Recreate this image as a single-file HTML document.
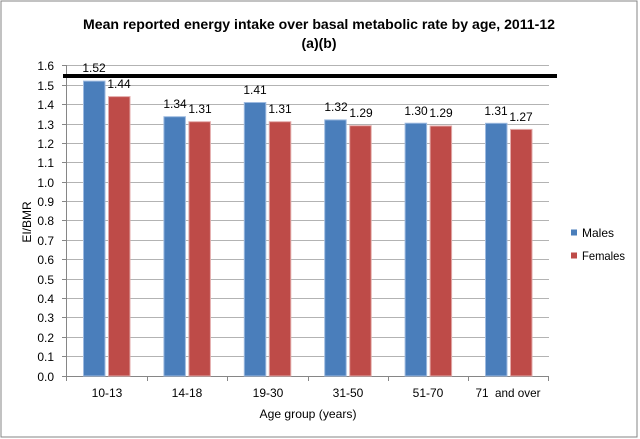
<!DOCTYPE html>
<html><head><meta charset="utf-8">
<style>
html,body{margin:0;padding:0;background:#fff;}
svg{display:block;}
text{font-family:"Liberation Sans",sans-serif;fill:#000;}
</style></head>
<body>
<svg width="640" height="439" viewBox="0 0 640 439" xmlns="http://www.w3.org/2000/svg">
<rect x="0" y="0" width="640" height="439" fill="#fff"/>
<rect x="1" y="1" width="636" height="436" fill="#fff" stroke="#868686" stroke-width="1"/>
<text x="319" y="29" font-size="14" font-weight="bold" text-anchor="middle" textLength="472" lengthAdjust="spacingAndGlyphs">Mean reported energy intake over basal metabolic rate by age, 2011-12</text>
<text x="319" y="48" font-size="14" font-weight="bold" text-anchor="middle" textLength="35" lengthAdjust="spacingAndGlyphs">(a)(b)</text>
<g stroke="#b3b3b3" stroke-width="1">
<line x1="66" y1="65.5" x2="549" y2="65.5"/><line x1="66" y1="85.5" x2="549" y2="85.5"/><line x1="66" y1="104.5" x2="549" y2="104.5"/><line x1="66" y1="124.5" x2="549" y2="124.5"/><line x1="66" y1="143.5" x2="549" y2="143.5"/><line x1="66" y1="162.5" x2="549" y2="162.5"/><line x1="66" y1="182.5" x2="549" y2="182.5"/><line x1="66" y1="201.5" x2="549" y2="201.5"/><line x1="66" y1="220.5" x2="549" y2="220.5"/><line x1="66" y1="240.5" x2="549" y2="240.5"/><line x1="66" y1="259.5" x2="549" y2="259.5"/><line x1="66" y1="279.5" x2="549" y2="279.5"/><line x1="66" y1="298.5" x2="549" y2="298.5"/><line x1="66" y1="317.5" x2="549" y2="317.5"/><line x1="66" y1="337.5" x2="549" y2="337.5"/><line x1="66" y1="356.5" x2="549" y2="356.5"/>
</g>
<g stroke="#868686" stroke-width="1">
<line x1="66.5" y1="65" x2="66.5" y2="376"/>
<line x1="62" y1="376.5" x2="549" y2="376.5"/>
<line x1="62" y1="65.5" x2="66" y2="65.5"/><line x1="62" y1="85.5" x2="66" y2="85.5"/><line x1="62" y1="104.5" x2="66" y2="104.5"/><line x1="62" y1="124.5" x2="66" y2="124.5"/><line x1="62" y1="143.5" x2="66" y2="143.5"/><line x1="62" y1="162.5" x2="66" y2="162.5"/><line x1="62" y1="182.5" x2="66" y2="182.5"/><line x1="62" y1="201.5" x2="66" y2="201.5"/><line x1="62" y1="220.5" x2="66" y2="220.5"/><line x1="62" y1="240.5" x2="66" y2="240.5"/><line x1="62" y1="259.5" x2="66" y2="259.5"/><line x1="62" y1="279.5" x2="66" y2="279.5"/><line x1="62" y1="298.5" x2="66" y2="298.5"/><line x1="62" y1="317.5" x2="66" y2="317.5"/><line x1="62" y1="337.5" x2="66" y2="337.5"/><line x1="62" y1="356.5" x2="66" y2="356.5"/>
<line x1="66.5" y1="376" x2="66.5" y2="381"/><line x1="147.5" y1="376" x2="147.5" y2="381"/><line x1="227.5" y1="376" x2="227.5" y2="381"/><line x1="308.5" y1="376" x2="308.5" y2="381"/><line x1="388.5" y1="376" x2="388.5" y2="381"/><line x1="468.5" y1="376" x2="468.5" y2="381"/><line x1="548.5" y1="376" x2="548.5" y2="381"/>
</g>
<g font-size="12" text-anchor="end">
<text x="54" y="70">1.6</text><text x="54" y="90">1.5</text><text x="54" y="109">1.4</text><text x="54" y="129">1.3</text><text x="54" y="148">1.2</text><text x="54" y="167">1.1</text><text x="54" y="187">1.0</text><text x="54" y="206">0.9</text><text x="54" y="225">0.8</text><text x="54" y="245">0.7</text><text x="54" y="264">0.6</text><text x="54" y="284">0.5</text><text x="54" y="303">0.4</text><text x="54" y="322">0.3</text><text x="54" y="342">0.2</text><text x="54" y="361">0.1</text><text x="54" y="381">0.0</text>
</g>
<text transform="translate(31,222) rotate(-90)" font-size="12" text-anchor="middle">EI/BMR</text>
<!-- bars -->
<g stroke-width="1">
<rect x="83.5" y="81.1" width="21.5" height="294.9" fill="#4A7EBB" stroke="#9DBAE0"/>
<rect x="108.5" y="96.6" width="21.5" height="279.4" fill="#BE4B48" stroke="#E3AAA9"/>
<rect x="163.9" y="116.7" width="21.5" height="259.3" fill="#4A7EBB" stroke="#9DBAE0"/>
<rect x="188.9" y="121.7" width="21.5" height="254.3" fill="#BE4B48" stroke="#E3AAA9"/>
<rect x="244.3" y="102.5" width="21.5" height="273.5" fill="#4A7EBB" stroke="#9DBAE0"/>
<rect x="269.3" y="121.7" width="21.5" height="254.3" fill="#BE4B48" stroke="#E3AAA9"/>
<rect x="324.7" y="119.9" width="21.5" height="256.1" fill="#4A7EBB" stroke="#9DBAE0"/>
<rect x="349.7" y="125.7" width="21.5" height="250.3" fill="#BE4B48" stroke="#E3AAA9"/>
<rect x="405.1" y="123.2" width="21.5" height="252.8" fill="#4A7EBB" stroke="#9DBAE0"/>
<rect x="430.1" y="126.0" width="21.5" height="250.0" fill="#BE4B48" stroke="#E3AAA9"/>
<rect x="485.5" y="123.3" width="21.5" height="252.7" fill="#4A7EBB" stroke="#9DBAE0"/>
<rect x="510.5" y="129.4" width="21.5" height="246.6" fill="#BE4B48" stroke="#E3AAA9"/>
</g>
<rect x="63" y="74" width="494" height="4" fill="#000"/>
<g font-size="12" text-anchor="middle">
<text x="94" y="72">1.52</text><text x="119" y="88">1.44</text>
<text x="175" y="108">1.34</text><text x="200" y="113">1.31</text>
<text x="255" y="94">1.41</text><text x="280" y="113">1.31</text>
<text x="336" y="111">1.32</text><text x="361" y="117">1.29</text>
<text x="416" y="115">1.30</text><text x="441" y="117">1.29</text>
<text x="496" y="115">1.31</text><text x="521" y="121">1.27</text>
</g>
<g font-size="12" text-anchor="middle">
<text x="107" y="397">10-13</text><text x="187" y="397">14-18</text><text x="268" y="397">19-30</text><text x="348" y="397">31-50</text><text x="428" y="397">51-70</text><text x="508" y="397" textLength="65" lengthAdjust="spacingAndGlyphs" xml:space="preserve">71  and over</text>
</g>
<text x="308" y="418" font-size="12" text-anchor="middle" textLength="97" lengthAdjust="spacingAndGlyphs">Age group (years)</text>
<rect x="571" y="229.5" width="6" height="6" fill="#4A7EBB"/>
<text x="582" y="237" font-size="12">Males</text>
<rect x="571" y="252.5" width="6" height="6" fill="#BE4B48"/>
<text x="582" y="260" font-size="12" textLength="43" lengthAdjust="spacingAndGlyphs">Females</text>
</svg>
</body></html>
